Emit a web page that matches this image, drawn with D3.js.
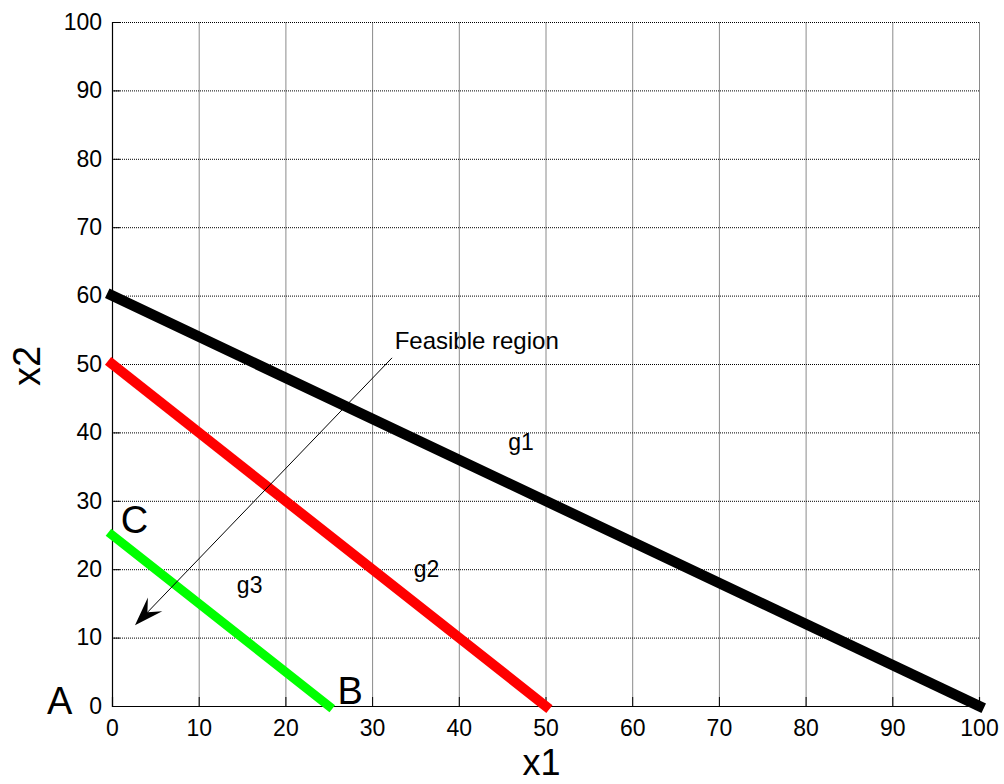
<!DOCTYPE html>
<html>
<head>
<meta charset="utf-8">
<script src="https://cdn.jsdelivr.net/npm/d3@7/dist/d3.min.js"></script>
<style>
  html, body { margin: 0; padding: 0; background: #fff; }
  svg { display: block; font-family: "Liberation Sans", Arial, sans-serif; }
</style>
</head>
<body>
<svg id="chart" width="1004" height="784"></svg>
<script>
// ---- data ----
const xTicks = [0, 10, 20, 30, 40, 50, 60, 70, 80, 90, 100];
const yTicks = [0, 10, 20, 30, 40, 50, 60, 70, 80, 90, 100];

const g1X = [0, 100], g1Y = [60, 0];
const g2X = [0, 50],  g2Y = [50, 0];
const g3X = [0, 25],  g3Y = [25, 0];

const lineNames = ["g1", "g2", "g3"];
const lineColors = ["#000000", "#ff0000", "#00ff00"];

// annotation texts and their anchor points in data units
const annoText = ["g1", "g2", "g3", "C", "B", "A", "Feasible region"];
const annoX    = [45.7, 34.8, 14.4, 1.0, 26.0, -7.5, 32.6];
const annoY    = [37.4, 18.9, 16.5, 25.3, 0.3, -1.2, 52.2];

// arrow from (start) to (tip), data units
const arrowX = [32.3, 2.65];
const arrowY = [50.9, 11.8];

// ---- layout ----
const svg = d3.select("#chart");
const pL = 112, pR = 979, pT = 22, pB = 706;
const x = d3.scaleLinear().domain([0, 100]).range([pL, pR]);
const y = d3.scaleLinear().domain([0, 100]).range([pB, pT]);

// "Feasible region" text sits underneath the grid
const annoSize = [23, 23, 23, 38, 38, 38, 24];
svg.append("text")
  .attr("x", x(annoX[6])).attr("y", y(annoY[6]))
  .attr("font-size", annoSize[6])
  .attr("fill", "#000")
  .text(annoText[6]);

// grid
const grid = svg.append("g");
grid.selectAll("line.v").data(xTicks.filter(d => d > 0)).enter().append("line")
  .attr("x1", d => x(d) + 0.5).attr("x2", d => x(d) + 0.5)
  .attr("y1", y(100)).attr("y2", y(0))
  .attr("stroke", "#8a8a8a").attr("stroke-width", 1);
grid.selectAll("line.h").data(yTicks.filter(d => d > 0)).enter().append("line")
  .attr("x1", x(0)).attr("x2", x(100))
  .attr("y1", d => y(d) + 0.5).attr("y2", d => y(d) + 0.5)
  .attr("stroke", "#000").attr("stroke-width", 1)
  .attr("stroke-dasharray", "1,1");

// axes
const xAxis = d3.axisBottom(x).tickValues(xTicks).tickSize(-9).tickPadding(14);
const yAxis = d3.axisLeft(y).tickValues(yTicks).tickSize(-8).tickPadding(10);

const gx = svg.append("g").attr("transform", `translate(0,${pB})`).call(xAxis);
const gy = svg.append("g").attr("transform", `translate(${pL},0)`).call(yAxis);
[gx, gy].forEach(g => {
  g.select(".domain").attr("stroke", "#000").attr("stroke-width", 1.2);
  g.selectAll(".tick line").attr("stroke", "#000");
  g.selectAll(".tick text")
    .attr("font-size", 23)
    .attr("font-family", "'Liberation Sans', Arial, sans-serif")
    .attr("fill", "#000");
});

// constraint lines
const lineGen = d3.line().x(d => x(d[0])).y(d => y(d[1]));
const lineData = [
  d3.zip(g1X, g1Y),
  d3.zip(g2X, g2Y),
  d3.zip(g3X, g3Y)
];
const lineWidths = [10.5, 10, 9];
svg.append("g").selectAll("path").data(lineData).enter().append("path")
  .attr("d", lineGen)
  .attr("fill", "none")
  .attr("stroke", (d, i) => lineColors[i])
  .attr("stroke-width", (d, i) => lineWidths[i])
  .attr("stroke-linecap", "square");

// annotations (except "Feasible region")
for (let i = 0; i < 6; i++) {
  svg.append("text")
    .attr("x", x(annoX[i])).attr("y", y(annoY[i]))
    .attr("font-size", annoSize[i])
    .attr("fill", "#000")
    .text(annoText[i]);
}

// arrow
const ax0 = x(arrowX[0]), ay0 = y(arrowY[0]);
const ax1 = x(arrowX[1]), ay1 = y(arrowY[1]);
const alen = Math.hypot(ax1 - ax0, ay1 - ay0);
const adx = (ax1 - ax0) / alen, ady = (ay1 - ay0) / alen;
const anx = -ady, any = adx;
const AL = 29, AW = 10;
svg.append("line")
  .attr("x1", ax0).attr("y1", ay0)
  .attr("x2", ax1 - adx * AL * 0.6).attr("y2", ay1 - ady * AL * 0.6)
  .attr("stroke", "#000").attr("stroke-width", 1);
const head = [
  [ax1, ay1],
  [ax1 - adx * AL + anx * AW, ay1 - ady * AL + any * AW],
  [ax1 - adx * AL * 0.62, ay1 - ady * AL * 0.62],
  [ax1 - adx * AL - anx * AW, ay1 - ady * AL - any * AW]
];
svg.append("path")
  .attr("d", "M" + head.map(p => p.join(",")).join("L") + "Z")
  .attr("fill", "#000");

// axis titles
svg.append("text")
  .attr("x", (pL + pR) / 2 - 4).attr("y", 775)
  .attr("text-anchor", "middle")
  .attr("font-size", 36)
  .text("x1");
svg.append("text")
  .attr("transform", `translate(40,${(pT + pB) / 2 + 2}) rotate(-90)`)
  .attr("text-anchor", "middle")
  .attr("font-size", 38)
  .text("x2");
</script>
</body>
</html>
